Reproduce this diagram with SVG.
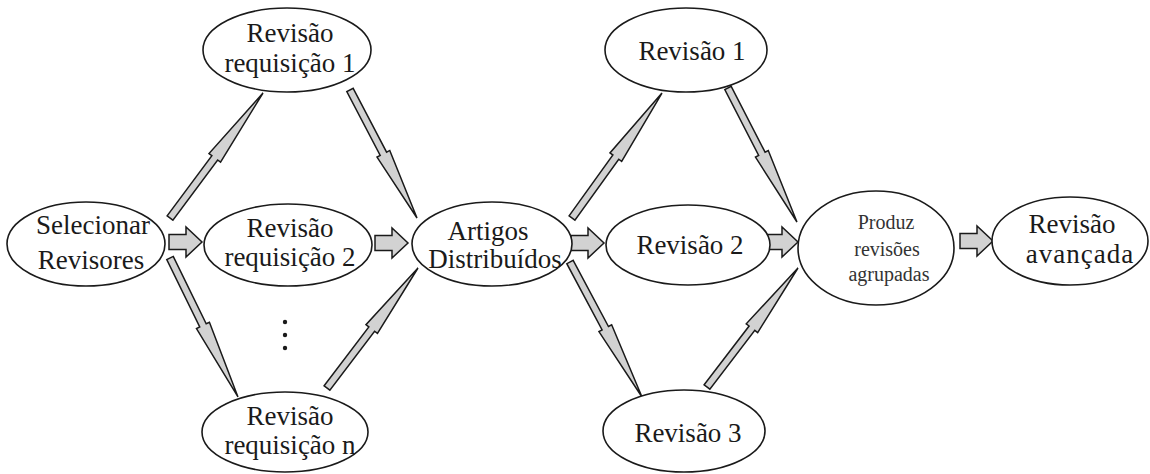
<svg xmlns="http://www.w3.org/2000/svg" width="1150" height="474" viewBox="0 0 1150 474">
  <style>
    .node ellipse { fill: #ffffff; stroke: #1a1a1a; stroke-width: 1.6; }
    .node text { font-family: "Liberation Serif", "Times New Roman", serif; font-size: 27px; fill: #1a1a1a; text-anchor: middle; }
    .node text.small { font-size: 20px; fill: #333333; }
    .arrow { fill: #d2d2d2; stroke: #1a1a1a; stroke-width: 1.5; stroke-linejoin: miter; }
    .dots circle { fill: #1a1a1a; }
  </style>
  <defs>
    <!-- short fat block arrow pointing right, tail at origin -->
    <path id="blk" d="M0,-7.5 H17 V-15 L33,0 L17,15 V7.5 H0 Z"/>
  </defs>

  <rect width="1150" height="474" fill="#ffffff"/>

  <!-- connectors -->
  <g id="connectors">
    <!-- horizontal block arrows -->
    <use href="#blk" class="arrow" transform="translate(169,242)"/>
    <use href="#blk" class="arrow" transform="translate(375,243)"/>
    <use href="#blk" class="arrow" transform="translate(571,243)"/>
    <use href="#blk" class="arrow" transform="translate(765,242)"/>
    <use href="#blk" class="arrow" transform="translate(960,241)"/>

    <!-- long narrow arrows: tail at origin, pointing along +x -->
    <path class="arrow" transform="translate(170,218) rotate(-53.35)" d="M0,-3.6 H75 V-7.2 L155.8,0 L75,7.2 V3.6 H0 Z"/>
    <path class="arrow" transform="translate(170,258) rotate(63.93)" d="M0,-3.6 H75 V-7.2 L154.7,0 L75,7.2 V3.6 H0 Z"/>
    <path class="arrow" transform="translate(350,90) rotate(62.37)" d="M0,-3.6 H72 V-7.2 L144.5,0 L72,7.2 V3.6 H0 Z"/>
    <path class="arrow" transform="translate(327,388) rotate(-52.83)" d="M0,-3.6 H74 V-7.2 L150.6,0 L74,7.2 V3.6 H0 Z"/>
    <path class="arrow" transform="translate(572,218) rotate(-54.25)" d="M0,-3.6 H75 V-7.2 L154,0 L75,7.2 V3.6 H0 Z"/>
    <path class="arrow" transform="translate(728,88) rotate(62.76)" d="M0,-3.6 H74 V-7.2 L150.7,0 L74,7.2 V3.6 H0 Z"/>
    <path class="arrow" transform="translate(570,262) rotate(61.93)" d="M0,-3.6 H75 V-7.2 L153,0 L75,7.2 V3.6 H0 Z"/>
    <path class="arrow" transform="translate(707,387) rotate(-52.6)" d="M0,-3.6 H74 V-7.2 L149.8,0 L74,7.2 V3.6 H0 Z"/>
  </g>

  <!-- nodes -->
  <g id="selecionar" class="node">
    <ellipse cx="86" cy="244" rx="79" ry="42"/>
    <text x="93" y="234">Selecionar</text>
    <text x="91" y="269">Revisores</text>
  </g>

  <g id="req1" class="node">
    <ellipse cx="287" cy="50" rx="84" ry="42"/>
    <text x="290" y="42">Revisão</text>
    <text x="290" y="72">requisição 1</text>
  </g>

  <g id="req2" class="node">
    <ellipse cx="288" cy="245" rx="84" ry="41"/>
    <text x="290" y="237">Revisão</text>
    <text x="290" y="266">requisição 2</text>
  </g>

  <g class="dots" id="ellipsis">
    <circle cx="285" cy="322" r="2.2"/>
    <circle cx="285" cy="335" r="2.2"/>
    <circle cx="285" cy="348" r="2.2"/>
  </g>

  <g id="reqn" class="node">
    <ellipse cx="285" cy="432" rx="83" ry="40"/>
    <text x="290" y="425">Revisão</text>
    <text x="290" y="454">requisição n</text>
  </g>

  <g id="artigos" class="node">
    <ellipse cx="492" cy="244" rx="80" ry="42"/>
    <text x="488" y="240">Artigos</text>
    <text x="495" y="268">Distribuídos</text>
  </g>

  <g id="rev1" class="node">
    <ellipse cx="686" cy="50" rx="81" ry="42"/>
    <text x="692" y="60">Revisão 1</text>
  </g>

  <g id="rev2" class="node">
    <ellipse cx="688" cy="245" rx="82" ry="40"/>
    <text x="690" y="254">Revisão 2</text>
  </g>

  <g id="rev3" class="node">
    <ellipse cx="684" cy="431" rx="81" ry="41"/>
    <text x="688" y="442">Revisão 3</text>
  </g>

  <g id="produz" class="node">
    <ellipse cx="876" cy="248" rx="78" ry="57"/>
    <text class="small" x="886" y="229">Produz</text>
    <text class="small" x="887" y="256">revisões</text>
    <text class="small" x="889" y="281">agrupadas</text>
  </g>

  <g id="avancada" class="node">
    <ellipse cx="1070" cy="241" rx="78" ry="44"/>
    <text x="1072" y="233">Revisão</text>
    <text x="1080" y="263" letter-spacing="1">avançada</text>
  </g>
</svg>
